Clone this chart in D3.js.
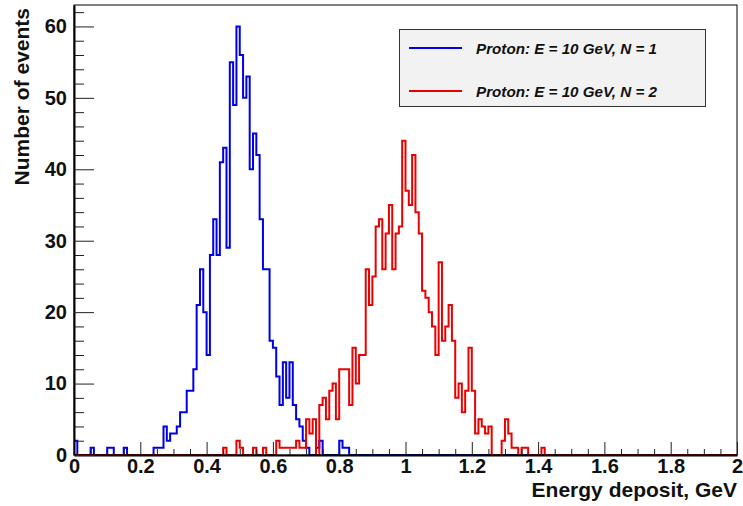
<!DOCTYPE html>
<html><head><meta charset="utf-8">
<script src="https://cdn.jsdelivr.net/npm/d3@7/dist/d3.min.js"></script>
<style>
body{margin:0;background:#fff}
svg text{font-family:"Liberation Sans",Arial,Helvetica,sans-serif;font-weight:bold;fill:#111}
</style>
</head><body>
<svg id="chart" width="743" height="506"></svg>
<script>
// ---- data ----
const xRange = [0, 2];
const nBins = 200;               // bin width 0.01 GeV
const yMax = 63;
// Proton: E = 10 GeV, N = 1 (blue) - counts per bin, bins 0..199
const blueCounts = [
 2,0,0,0,0,1,0,0,0,0, 1,1,0,0,0,1,0,0,0,0,
 0,0,0,0,1,1,1,4,2,3, 3,4,6,6,9,9,12,21,26,20,
 14,28,33,28,41,43,29,55,49,60, 56,50,53,40,45,42,33,26,26,16,
 15,11,7,13,8,13,7,5,4,2, 1,0,0,1,2,0,0,0,0,0,
 2,1,1,0,0,0,0,0,0,0, 0,0,0,0,0,0,0,0,0,0,
 0,0,0,0,0,0,0,0,0,0, 0,0,0,0,0,0,0,0,0,0,
 0,0,0,0,0,0,0,0,0,0, 0,0,0,0,0,0,0,0,0,0,
 0,0,0,0,0,0,0,0,0,0, 0,0,0,0,0,0,0,0,0,0,
 0,0,0,0,0,0,0,0,0,0, 0,0,0,0,0,0,0,0,0,0,
 0,0,0,0,0,0,0,0,0,0, 0,0,0,0,0,0,0,0,0,0
];
// Proton: E = 10 GeV, N = 2 (red)
const redCounts = [
 0,0,0,0,0,0,0,0,0,0, 0,0,0,0,0,0,0,0,0,0,
 0,0,0,0,0,0,0,0,0,0, 0,0,0,0,0,0,0,0,0,0,
 0,0,0,0,0,1,0,0,0,2, 1,0,0,0,1,0,0,1,0,0,
 0,2,1,1,1,1,1,2,1,1, 5,3,5,0,7,8,5,9,10,5,
 12,12,12,7,15,10,14,14,26,21, 25,32,33,26,31,35,26,31,32,44,
 37,35,42,34,31,23,22,20,18,14, 27,16,18,21,16,8,10,6,9,15,
 9,3,5,4,3,4,0,0,0,2, 5,3,1,1,0,1,1,0,0,0,
 0,1,0,0,0,0,0,0,0,0, 0,0,0,0,0,0,0,0,0,0,
 0,0,0,0,0,0,0,0,0,0, 0,0,0,0,0,0,0,0,0,0,
 0,0,0,0,0,0,0,0,0,0, 0,0,0,0,0,0,0,0,0,0
];
const xTickValues = [0,0.2,0.4,0.6,0.8,1,1.2,1.4,1.6,1.8,2];
const xTickLabels = ["0","0.2","0.4","0.6","0.8","1","1.2","1.4","1.6","1.8","2"];
const yTickValues = [0,10,20,30,40,50,60];
const seriesNames = ["Proton: E = 10 GeV, N = 1","Proton: E = 10 GeV, N = 2"];
const seriesColors = ["#0000e6","#eb0000"];
const xTitle = "Energy deposit, GeV";
const yTitle = "Number of events";

// ---- layout ----
const L = 74, R = 737, T = 5, B = 455;
const svg = d3.select("#chart");
const x = d3.scaleLinear().domain(xRange).range([L, R]);
const y = d3.scaleLinear().domain([0, yMax]).range([B, T]);
const bw = (xRange[1]-xRange[0]) / nBins;

svg.append("defs").append("clipPath").attr("id","clip")
  .append("rect").attr("x",L).attr("y",T).attr("width",R-L).attr("height",B-T);

function histPoints(counts){
  const pts = [[xRange[0],0]];
  counts.forEach((v,i)=>{ pts.push([xRange[0]+i*bw, v]); pts.push([xRange[0]+(i+1)*bw, v]); });
  pts.push([xRange[1],0]);
  return pts;
}
const line = d3.line().x(d=>x(d[0])).y(d=>y(d[1]));

const g = svg.append("g").attr("clip-path","url(#clip)");
[blueCounts, redCounts].forEach((c,k)=>{
  g.append("path").attr("d", line(histPoints(c)))
   .attr("fill","none").attr("stroke",seriesColors[k]).attr("stroke-width",2)
   .attr("stroke-linejoin","miter");
});

// frame
svg.append("rect").attr("x",L).attr("y",T).attr("width",R-L).attr("height",B-T)
  .attr("fill","none").attr("stroke","#000").attr("stroke-width",1);

// x axis
const xMinor = d3.range(0, 2.0001, 0.05).filter(v => Math.abs(v*5 - Math.round(v*5)) > 1e-6);
svg.append("g").attr("transform",`translate(0,${B})`)
  .call(d3.axisBottom(x).tickValues(xMinor).tickSizeInner(-6).tickSizeOuter(0).tickFormat(""))
  .call(a=>a.select(".domain").remove())
  .selectAll("line").attr("stroke","#222");
const xa = svg.append("g").attr("transform",`translate(0,${B})`)
  .call(d3.axisBottom(x).tickValues(xTickValues).tickSizeInner(-13).tickSizeOuter(0).tickPadding(6)
        .tickFormat((d,i)=>xTickLabels[i]));
xa.select(".domain").attr("stroke","#000").attr("stroke-width",2);
xa.selectAll("line").attr("stroke","#222");
xa.selectAll("text").attr("font-size",20).attr("dy","0.71em").attr("y",4);

// y axis
const yMinor = d3.range(0, yMax+0.001, 2).filter(v => v % 10 !== 0);
svg.append("g").attr("transform",`translate(${L},0)`)
  .call(d3.axisLeft(y).tickValues(yMinor).tickSizeInner(-10).tickSizeOuter(0).tickFormat(""))
  .call(a=>a.select(".domain").remove())
  .selectAll("line").attr("stroke","#222");
const ya = svg.append("g").attr("transform",`translate(${L},0)`)
  .call(d3.axisLeft(y).tickValues(yTickValues).tickSizeInner(-20).tickSizeOuter(0).tickPadding(7)
        .tickFormat(d3.format("d")));
ya.select(".domain").attr("stroke","#000").attr("stroke-width",2);
ya.selectAll("line").attr("stroke","#222");
ya.selectAll("text").attr("font-size",20);

// titles
svg.append("text").attr("x",R).attr("y",497).attr("text-anchor","end")
  .attr("font-size",21).text(xTitle);
svg.append("text").attr("transform","translate(29,8) rotate(-90)").attr("text-anchor","end")
  .attr("font-size",21).text(yTitle);

// legend
const lg = svg.append("g");
lg.append("rect").attr("x",399.5).attr("y",29.5).attr("width",306).attr("height",77)
  .attr("fill","#f2f2f2").attr("stroke","#333").attr("stroke-width",1);
seriesNames.forEach((nm,k)=>{
  const yy = 48 + k*43;
  lg.append("line").attr("x1",409).attr("x2",462).attr("y1",yy).attr("y2",yy)
    .attr("stroke",seriesColors[k]).attr("stroke-width",2);
  lg.append("text").attr("x",476).attr("y",yy+5.5).attr("font-size",15.2)
    .attr("font-style","italic").text(nm);
});
</script>
</body></html>
